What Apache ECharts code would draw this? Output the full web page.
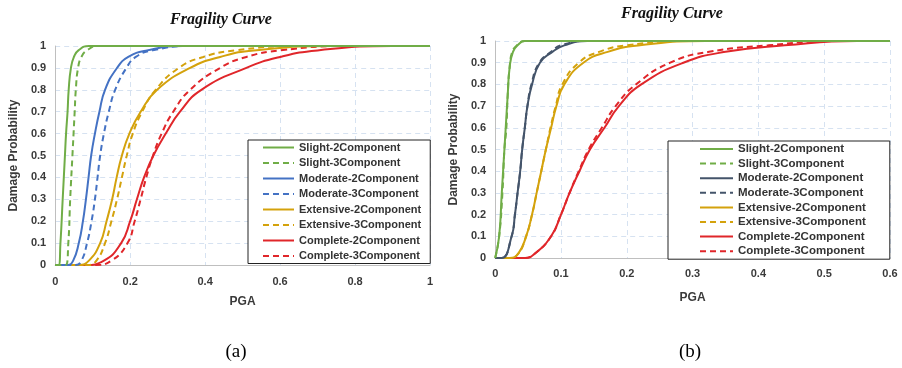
<!DOCTYPE html>
<html>
<head>
<meta charset="utf-8">
<script src="https://cdn.jsdelivr.net/npm/echarts@6/dist/echarts.min.js"></script>
<style>
  body { margin: 0; background: #fff; }
  #wrap { position: relative; width: 902px; height: 368px; }
  .chart { position: absolute; top: 0; height: 368px; }
  #chartA { left: 0; width: 450px; }
  #chartB { left: 440px; width: 462px; }
</style>
</head>
<body>
<div id="wrap">
  <div id="chartA" class="chart"></div>
  <div id="chartB" class="chart"></div>
</div>
<script>
// legend names, same order in both panels
const names = [
  'Slight-2Component', 'Slight-3Component',
  'Moderate-2Component', 'Moderate-3Component',
  'Extensive-2Component', 'Extensive-3Component',
  'Complete-2Component', 'Complete-3Component'
];

// (a) points: [PGA, probability]
const aSlight2 = [[0,0],[0.009,0],[0.014,0.1],[0.02,0.3],[0.026,0.5],[0.029,0.6],[0.033,0.7],[0.036,0.8],[0.042,0.9],[0.05,0.95],[0.062,0.98],[0.09,1],[1,1]];
const aSlight3 = [[0,0],[0.028,0],[0.035,0.1],[0.04,0.3],[0.046,0.5],[0.049,0.6],[0.052,0.7],[0.055,0.8],[0.061,0.9],[0.07,0.95],[0.085,0.98],[0.115,1],[1,1]];
const aModerate2 = [[0,0],[0.033,0],[0.048,0.02],[0.063,0.1],[0.074,0.2],[0.082,0.3],[0.089,0.4],[0.096,0.5],[0.106,0.6],[0.118,0.7],[0.133,0.8],[0.165,0.9],[0.195,0.95],[0.245,0.98],[0.34,1],[1,1]];
const aModerate3 = [[0,0],[0.055,0],[0.07,0.02],[0.085,0.1],[0.097,0.2],[0.106,0.3],[0.113,0.4],[0.12,0.5],[0.13,0.6],[0.143,0.7],[0.16,0.8],[0.19,0.9],[0.215,0.95],[0.26,0.98],[0.36,1],[1,1]];
const aExtensive2 = [[0,0],[0.063,0],[0.09,0.02],[0.12,0.1],[0.137,0.2],[0.152,0.3],[0.164,0.4],[0.178,0.5],[0.198,0.6],[0.228,0.7],[0.272,0.8],[0.36,0.9],[0.44,0.95],[0.53,0.98],[0.75,1],[1,1]];
const aExtensive3 = [[0,0],[0.089,0],[0.11,0.02],[0.133,0.1],[0.15,0.2],[0.165,0.3],[0.178,0.4],[0.191,0.5],[0.207,0.6],[0.232,0.7],[0.268,0.8],[0.33,0.9],[0.395,0.95],[0.48,0.98],[0.65,1],[1,1]];
const aComplete2 = [[0,0],[0.08,0],[0.13,0.02],[0.176,0.1],[0.2,0.2],[0.218,0.3],[0.237,0.4],[0.262,0.5],[0.295,0.6],[0.333,0.7],[0.39,0.8],[0.51,0.9],[0.6,0.95],[0.7,0.98],[0.9,1],[1,1]];
const aComplete3 = [[0,0],[0.107,0],[0.15,0.02],[0.193,0.1],[0.212,0.2],[0.228,0.3],[0.243,0.4],[0.261,0.5],[0.284,0.6],[0.315,0.7],[0.36,0.8],[0.44,0.9],[0.51,0.95],[0.6,0.98],[0.78,1],[1,1]];

// (b)
const bSlight2 = [[0,0],[0.006,0.1],[0.01,0.3],[0.014,0.5],[0.016,0.6],[0.019,0.75],[0.022,0.88],[0.027,0.95],[0.034,0.98],[0.045,1],[0.6,1]];
const bSlight3 = [[0,0],[0.006,0.1],[0.011,0.3],[0.014,0.5],[0.017,0.6],[0.019,0.75],[0.022,0.88],[0.026,0.95],[0.033,0.98],[0.045,1],[0.6,1]];
const bModerate2 = [[0,0],[0.01,0],[0.025,0.1],[0.03,0.2],[0.034,0.3],[0.038,0.4],[0.041,0.5],[0.045,0.6],[0.049,0.7],[0.056,0.8],[0.068,0.9],[0.087,0.95],[0.105,0.98],[0.14,1],[0.6,1]];
const bModerate3 = [[0,0],[0.01,0],[0.025,0.1],[0.03,0.2],[0.034,0.3],[0.038,0.4],[0.041,0.5],[0.045,0.6],[0.049,0.7],[0.055,0.8],[0.067,0.9],[0.085,0.95],[0.1,0.98],[0.14,1],[0.6,1]];
const bExtensive2 = [[0,0],[0.022,0],[0.035,0.02],[0.047,0.1],[0.056,0.2],[0.063,0.3],[0.07,0.4],[0.077,0.5],[0.085,0.6],[0.093,0.7],[0.105,0.8],[0.134,0.9],[0.171,0.95],[0.22,0.98],[0.32,1],[0.6,1]];
const bExtensive3 = [[0,0],[0.022,0],[0.035,0.02],[0.047,0.1],[0.056,0.2],[0.063,0.3],[0.07,0.4],[0.077,0.5],[0.084,0.6],[0.092,0.7],[0.102,0.8],[0.127,0.9],[0.158,0.95],[0.2,0.98],[0.29,1],[0.6,1]];
const bComplete2 = [[0,0],[0.045,0],[0.06,0.02],[0.085,0.1],[0.1,0.2],[0.113,0.3],[0.128,0.4],[0.144,0.5],[0.166,0.6],[0.188,0.7],[0.222,0.8],[0.286,0.9],[0.35,0.95],[0.44,0.98],[0.55,1],[0.6,1]];
const bComplete3 = [[0,0],[0.045,0],[0.06,0.02],[0.085,0.1],[0.1,0.2],[0.113,0.3],[0.127,0.4],[0.142,0.5],[0.162,0.6],[0.183,0.7],[0.214,0.8],[0.266,0.9],[0.325,0.95],[0.415,0.98],[0.52,1],[0.6,1]];

const xMaxA = 1, xStepA = 0.2;
const xMaxB = 0.6, xStepB = 0.1;
const yStep = 0.1;

const colorsA = ['#70AD47', '#70AD47', '#4472C4', '#4472C4', '#D4A20C', '#D4A20C', '#E0262A', '#E0262A'];
const colorsB = ['#70AD47', '#70AD47', '#44546A', '#44546A', '#D4A20C', '#D4A20C', '#E0262A', '#E0262A'];

const gridColor = '#D6E2F1';
const labelFont = { fontFamily: 'Liberation Sans', fontWeight: 'bold', fontSize: 11, color: '#3a3a3a' };

function makeSeries (datas, colors) {
  return datas.map((d, i) => ({
    name: names[i],
    type: 'line',
    data: d,
    symbol: 'none',
    showSymbol: false,
    smooth: 0.5,
    z: 10 - i,
    itemStyle: { color: colors[i] },
    lineStyle: { color: colors[i], width: 2, type: i % 2 ? [6, 4] : 'solid' }
  }))
}

function makeOption (cfg) {
  return {
    animation: false,
    grid: cfg.grid,
    graphic: [
      {
        type: 'text', x: cfg.titleX, y: cfg.titleY,
        style: { text: 'Fragility Curve', textAlign: 'center', textVerticalAlign: 'middle',
          font: 'italic bold 16px "Liberation Serif"', fill: '#111' }
      },
      {
        type: 'text', x: cfg.tagX, y: 352,
        style: { text: cfg.tag, textAlign: 'center', textVerticalAlign: 'middle',
          font: '19px "Liberation Serif"', fill: '#000' }
      }
    ],
    legend: {
      orient: 'vertical',
      left: cfg.legend.left,
      top: cfg.legend.top,
      itemWidth: cfg.legend.itemWidth,
      itemHeight: 12,
      itemGap: cfg.legend.itemGap,
      padding: cfg.legend.padding,
      borderColor: '#222',
      borderWidth: 1,
      backgroundColor: '#fff',
      // hide the marker dot, keep only the line sample
      itemStyle: { opacity: 0 },
      textStyle: Object.assign({}, labelFont, { fontSize: cfg.legend.fontSize, color: '#333' }),
      data: names
    },
    xAxis: {
      type: 'value',
      min: 0,
      max: cfg.xMax,
      interval: cfg.xStep,
      name: 'PGA',
      nameLocation: 'middle',
      nameGap: cfg.xNameGap,
      nameTextStyle: Object.assign({}, labelFont, { fontSize: 12 }),
      axisLine: { lineStyle: { color: '#BFBFBF', width: 1 } },
      axisTick: { show: false },
      axisLabel: Object.assign({ margin: cfg.xLabelMargin }, labelFont),
      splitLine: { show: true, lineStyle: { color: gridColor, type: [5, 4] } }
    },
    yAxis: {
      type: 'value',
      min: 0,
      max: 1,
      interval: yStep,
      name: 'Damage Probability',
      nameLocation: 'middle',
      nameGap: cfg.yNameGap,
      nameTextStyle: Object.assign({}, labelFont, { fontSize: 12 }),
      axisLine: { show: true, lineStyle: { color: '#BFBFBF', width: 1 } },
      axisTick: { show: false },
      axisLabel: Object.assign({ margin: 9 }, labelFont),
      splitLine: { show: true, lineStyle: { color: gridColor, type: [5, 4] } }
    },
    series: makeSeries(cfg.datas, cfg.colors)
  }
}

const chartA = echarts.init(document.getElementById('chartA'));
chartA.setOption(makeOption({
  grid: { left: 46, top: 46, width: 384, height: 219 },
  titleX: 221, titleY: 20, tag: '(a)', tagX: 236,
  xMax: xMaxA, xStep: xStepA, xNameGap: 31, xLabelMargin: 11, yNameGap: 34,
  legend: { left: 248, top: 140, itemWidth: 31, itemGap: 4.5, padding: [2, 9, 2, 14], fontSize: 11 },
  datas: [aSlight2, aSlight3, aModerate2, aModerate3, aExtensive2, aExtensive3, aComplete2, aComplete3],
  colors: colorsA
}));

const chartB = echarts.init(document.getElementById('chartB'));
chartB.setOption(makeOption({
  grid: { left: 48, top: 41, width: 402, height: 217 },
  titleX: 232, titleY: 14, tag: '(b)', tagX: 250,
  xMax: xMaxB, xStep: xStepB, xNameGap: 34, xLabelMargin: 10, yNameGap: 35,
  legend: { left: 228, top: 141, itemWidth: 33, itemGap: 2.6, padding: [2, 24, 2, 31], fontSize: 11.5 },
  datas: [bSlight2, bSlight3, bModerate2, bModerate3, bExtensive2, bExtensive3, bComplete2, bComplete3],
  colors: colorsB
}));
</script>
</body>
</html>
